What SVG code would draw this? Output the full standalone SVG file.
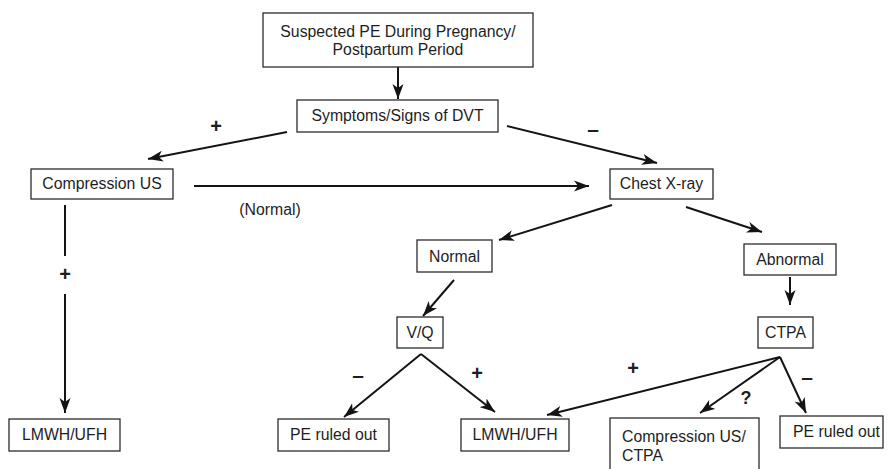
<svg xmlns="http://www.w3.org/2000/svg" width="889" height="469" viewBox="0 0 889 469">
  <style>
    .box { fill: #ffffff; stroke: #2b2b2b; stroke-width: 1.3; }
    .t { font-family: "Liberation Sans", Arial, sans-serif; font-size: 15.8px; fill: #1e1e1e; }
    .c { text-anchor: middle; }
    .sign { font-family: "Liberation Sans", Arial, sans-serif; font-weight: bold; fill: #1e1e1e; text-anchor: middle; }
    .plus { font-size: 20px; }
    .minus { font-size: 21px; }
    .edge { fill: none; stroke: #141414; stroke-width: 2; }
  </style>
  <defs>
    <marker id="arrow" markerUnits="userSpaceOnUse" markerWidth="16" markerHeight="12" refX="15" refY="6" orient="auto">
      <path d="M0,0.5 L15,6 L0,11.5 L4,6 z" fill="#141414"/>
    </marker>
  </defs>
  <rect width="889" height="469" fill="#ffffff"/>

  <!-- connectors -->
  <g id="connectors">
    <path class="edge" d="M398,67 L398,99" marker-end="url(#arrow)"/>
    <path class="edge" d="M287,132 L148,159" marker-end="url(#arrow)"/>
    <path class="edge" d="M507,126 L657,163" marker-end="url(#arrow)"/>
    <path class="edge" d="M194,186 L589,186" marker-end="url(#arrow)"/>
    <!-- vertical link split around its "+" label -->
    <path class="edge" d="M65,205 L65,256"/>
    <path class="edge" d="M65,294 L65,413" marker-end="url(#arrow)"/>
    <path class="edge" d="M612,205 L499,240" marker-end="url(#arrow)"/>
    <path class="edge" d="M686,207 L762,232" marker-end="url(#arrow)"/>
    <path class="edge" d="M790,277 L790,305" marker-end="url(#arrow)"/>
    <path class="edge" d="M454,280 L423,316" marker-end="url(#arrow)"/>
    <path class="edge" d="M421,354 L344,417" marker-end="url(#arrow)"/>
    <path class="edge" d="M421,354 L495,412" marker-end="url(#arrow)"/>
    <path class="edge" d="M780,357 L547,415" marker-end="url(#arrow)"/>
    <path class="edge" d="M780,357 L700,413" marker-end="url(#arrow)"/>
    <path class="edge" d="M780,357 L806,413" marker-end="url(#arrow)"/>

    <!-- branch labels -->
    <text class="sign plus" x="216" y="133">+</text>
    <text class="sign minus" x="593" y="136">–</text>
    <text class="t c" x="270" y="215">(Normal)</text>
    <text class="sign plus" x="65" y="281">+</text>
    <text class="sign minus" x="358" y="382">–</text>
    <text class="sign plus" x="477" y="380">+</text>
    <text class="sign plus" x="633" y="375">+</text>
    <text class="sign" x="746" y="404" font-size="18">?</text>
    <text class="sign minus" x="807" y="384">–</text>
  </g>

  <!-- nodes -->
  <g id="suspected-pe">
    <rect class="box" x="263" y="13" width="270" height="54"/>
    <text class="t c" x="398" y="37">Suspected PE During Pregnancy/</text>
    <text class="t c" x="398" y="55">Postpartum Period</text>
  </g>
  <g id="dvt-signs">
    <rect class="box" x="297" y="100" width="201" height="32"/>
    <text class="t c" x="397.5" y="121">Symptoms/Signs of DVT</text>
  </g>
  <g id="compression-us">
    <rect class="box" x="31" y="169" width="142" height="30"/>
    <text class="t c" x="102" y="189">Compression US</text>
  </g>
  <g id="chest-xray">
    <rect class="box" x="610" y="169" width="103" height="30"/>
    <text class="t c" x="661.5" y="189">Chest X-ray</text>
  </g>
  <g id="xray-normal">
    <rect class="box" x="417" y="240" width="75" height="32"/>
    <text class="t c" x="454.5" y="261.5">Normal</text>
  </g>
  <g id="xray-abnormal">
    <rect class="box" x="744" y="244" width="92" height="31"/>
    <text class="t c" x="790" y="265">Abnormal</text>
  </g>
  <g id="vq-scan">
    <rect class="box" x="397" y="317" width="46" height="31"/>
    <text class="t c" x="420" y="338">V/Q</text>
  </g>
  <g id="ctpa">
    <rect class="box" x="758" y="317" width="55" height="31"/>
    <text class="t c" x="785.5" y="338">CTPA</text>
  </g>
  <g id="lmwh-left">
    <rect class="box" x="9" y="419" width="111" height="32"/>
    <text class="t c" x="64.5" y="440">LMWH/UFH</text>
  </g>
  <g id="pe-ruled-out-left">
    <rect class="box" x="278" y="419" width="111" height="32"/>
    <text class="t c" x="333.5" y="440">PE ruled out</text>
  </g>
  <g id="lmwh-middle">
    <rect class="box" x="461" y="419" width="108" height="32"/>
    <text class="t c" x="515" y="440">LMWH/UFH</text>
  </g>
  <g id="compression-ctpa">
    <rect class="box" x="610" y="418" width="149" height="60"/>
    <text class="t" x="622" y="442">Compression US/</text>
    <text class="t" x="622" y="461">CTPA</text>
  </g>
  <g id="pe-ruled-out-right">
    <rect class="box" x="780" y="416" width="103" height="32"/>
    <text class="t" x="793" y="437">PE ruled out</text>
  </g>
</svg>
